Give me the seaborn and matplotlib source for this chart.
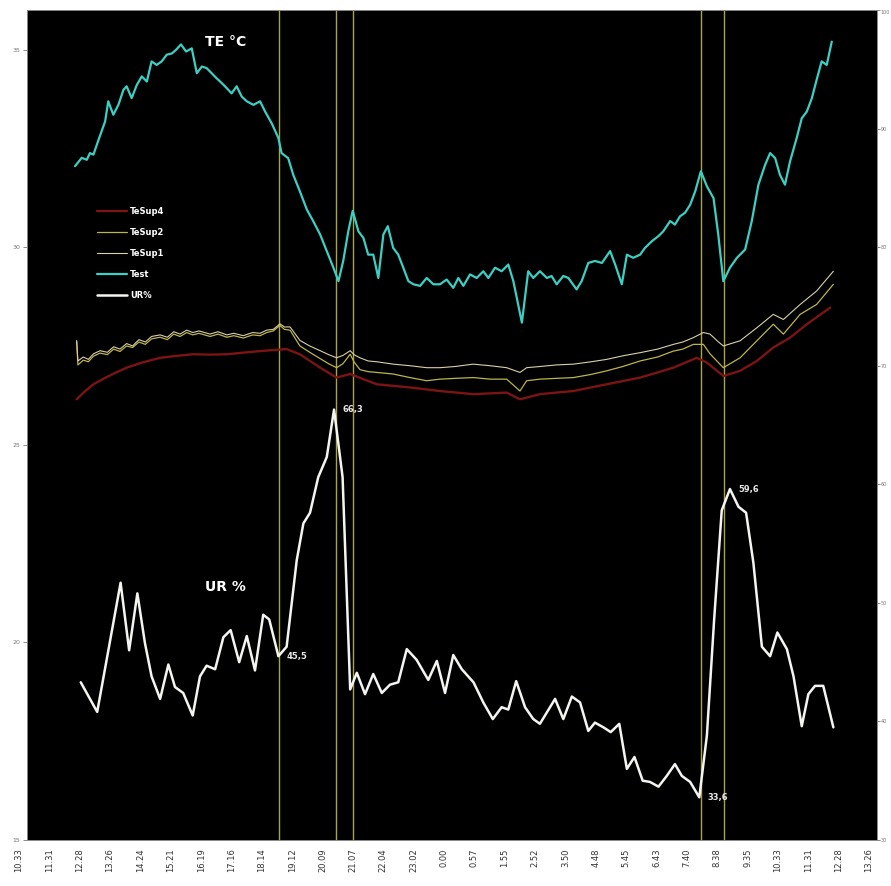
import numpy as np
import matplotlib
matplotlib.use("Agg")
import matplotlib.pyplot as plt
import matplotlib.transforms as mtransforms
import seaborn as sns

# ── data (time in hours since midnight of day 1) ─────────────────────────────
test_hours = [12.08, 12.29, 12.45, 12.55, 12.66, 12.82, 12.92, 13.03, 13.13, 13.29,
              13.45, 13.61, 13.71, 13.87, 14.03, 14.19, 14.35, 14.50, 14.66, 14.82,
              14.98, 15.14, 15.27, 15.43, 15.59, 15.77, 15.93, 16.09, 16.24, 16.40,
              16.56, 16.72, 16.88, 17.03, 17.19, 17.35, 17.51, 17.72, 17.93, 18.09,
              18.30, 18.51, 18.61, 18.82, 18.98, 19.19, 19.41, 19.61, 19.83, 20.04,
              20.25, 20.41, 20.56, 20.72, 20.86, 21.04, 21.20, 21.35, 21.51, 21.67,
              21.83, 21.97, 22.14, 22.30, 22.46, 22.62, 22.78, 22.99, 23.20, 23.41,
              23.62, 23.83, 24.04, 24.20, 24.36, 24.57, 24.78, 24.99, 25.15, 25.36,
              25.57, 25.78, 25.94, 26.21, 26.41, 26.57, 26.78, 27.00, 27.15, 27.31,
              27.52, 27.68, 27.94, 28.10, 28.31, 28.52, 28.74, 29.00, 29.16, 29.37,
              29.53, 29.73, 29.95, 30.10, 30.32, 30.53, 30.68, 30.90, 31.05, 31.21,
              31.37, 31.53, 31.69, 31.87, 32.06, 32.27, 32.42, 32.58, 32.79, 33.01,
              33.27, 33.48, 33.69, 33.90, 34.06, 34.22, 34.37, 34.53, 34.69, 34.90,
              35.06, 35.22, 35.38, 35.53, 35.69, 35.85, 35.93, 36.01]
test_vals = [32.05, 32.26, 32.21, 32.38, 32.34, 32.71, 32.93, 33.18, 33.69, 33.35,
             33.60, 33.98, 34.07, 33.77, 34.10, 34.32, 34.19, 34.70, 34.61, 34.70,
             34.87, 34.90, 34.99, 35.13, 34.95, 35.03, 34.40, 34.57, 34.53, 34.40,
             34.27, 34.15, 34.02, 33.89, 34.07, 33.81, 33.69, 33.60, 33.69, 33.43,
             33.13, 32.76, 32.38, 32.25, 31.83, 31.41, 30.95, 30.66, 30.32, 29.90,
             29.48, 29.14, 29.65, 30.40, 30.92, 30.40, 30.23, 29.81, 29.81, 29.22,
             30.32, 30.53, 29.98, 29.81, 29.48, 29.14, 29.06, 29.02, 29.22, 29.06,
             29.06, 29.18, 28.97, 29.22, 29.02, 29.31, 29.22, 29.39, 29.22, 29.48,
             29.39, 29.56, 29.14, 28.09, 29.39, 29.22, 29.39, 29.22, 29.27, 29.06,
             29.27, 29.22, 28.93, 29.14, 29.60, 29.65, 29.60, 29.90, 29.56, 29.06,
             29.81, 29.73, 29.81, 29.98, 30.15, 30.28, 30.40, 30.66, 30.57, 30.78,
             30.87, 31.07, 31.41, 31.92, 31.54, 31.24, 30.32, 29.14, 29.48, 29.73,
             29.94, 30.66, 31.58, 32.08, 32.38, 32.25, 31.83, 31.58, 32.17, 32.76,
             33.26, 33.43, 33.77, 34.23, 34.70, 34.61, 34.90, 35.20]

tesup_hours = [12.13, 12.17, 12.34, 12.50, 12.66, 12.87, 13.10, 13.30, 13.50, 13.71,
               13.90, 14.10, 14.30, 14.50, 14.77, 15.00, 15.20, 15.40, 15.61, 15.80,
               16.00, 16.35, 16.60, 16.88, 17.10, 17.40, 17.70, 17.93, 18.14, 18.35,
               18.56, 18.70, 18.88, 19.19, 19.50, 19.83, 20.10, 20.35, 20.55, 20.78,
               20.90, 21.09, 21.35, 21.62, 22.14, 22.67, 23.20, 23.62, 24.10, 24.67,
               25.20, 25.73, 26.15, 26.36, 26.78, 27.30, 27.84, 28.40, 28.89, 29.40,
               29.95, 30.50, 31.00, 31.30, 31.63, 31.95, 32.16, 32.40, 32.58, 33.11,
               33.64, 34.16, 34.48, 35.01, 35.53, 36.06]
tesup1_vals = [27.63, 27.12, 27.22, 27.16, 27.30, 27.38, 27.34, 27.48, 27.42, 27.56,
               27.50, 27.66, 27.60, 27.74, 27.78, 27.72, 27.86, 27.80, 27.90, 27.84,
               27.88, 27.80, 27.86, 27.78, 27.82, 27.76, 27.84, 27.82, 27.90, 27.92,
               28.06, 27.98, 27.98, 27.64, 27.50, 27.38, 27.28, 27.20, 27.26, 27.38,
               27.28, 27.20, 27.12, 27.10, 27.04, 27.00, 26.95, 26.95, 26.98, 27.04,
               27.00, 26.95, 26.83, 26.95, 26.98, 27.02, 27.04, 27.10, 27.16, 27.25,
               27.33, 27.42, 27.54, 27.60, 27.71, 27.84, 27.80, 27.62, 27.50, 27.63,
               27.96, 28.30, 28.17, 28.55, 28.89, 29.39]
tesup2_vals = [27.63, 27.02, 27.14, 27.10, 27.24, 27.32, 27.28, 27.42, 27.36, 27.50,
               27.46, 27.60, 27.54, 27.68, 27.72, 27.66, 27.80, 27.74, 27.84, 27.78,
               27.82, 27.74, 27.80, 27.72, 27.76, 27.70, 27.78, 27.76, 27.84, 27.88,
               28.02, 27.92, 27.90, 27.50, 27.34, 27.18, 27.05, 26.95, 27.05, 27.29,
               27.10, 26.90, 26.85, 26.83, 26.79, 26.70, 26.62, 26.66, 26.68, 26.70,
               26.66, 26.66, 26.36, 26.62, 26.66, 26.68, 26.70, 26.78, 26.87, 26.98,
               27.12, 27.22, 27.37, 27.42, 27.54, 27.54, 27.30, 27.10, 26.95, 27.20,
               27.63, 28.05, 27.80, 28.30, 28.55, 29.06]

tesup4_hours = [12.13, 12.40, 12.66, 13.00, 13.30, 13.71, 14.20, 14.77, 15.30, 15.82,
                16.35, 16.88, 17.40, 17.93, 18.40, 18.77, 19.19, 19.83, 20.35, 20.78,
                21.62, 22.67, 23.62, 24.67, 25.73, 26.15, 26.78, 27.84, 28.89, 29.95,
                31.00, 31.74, 32.06, 32.58, 33.11, 33.64, 34.16, 34.69, 35.22, 35.96]
tesup4_vals = [26.15, 26.36, 26.53, 26.68, 26.80, 26.95, 27.08, 27.20, 27.25, 27.29,
               27.28, 27.29, 27.33, 27.37, 27.40, 27.42, 27.29, 26.95, 26.70, 26.79,
               26.53, 26.45, 26.36, 26.28, 26.32, 26.15, 26.28, 26.36, 26.53, 26.70,
               26.95, 27.20, 27.08, 26.74, 26.87, 27.12, 27.46, 27.71, 28.05, 28.47]

ur_hours = [12.26, 12.78, 13.52, 13.79, 14.05, 14.29, 14.50, 14.77, 15.03, 15.24,
            15.50, 15.80, 16.03, 16.24, 16.51, 16.77, 17.00, 17.27, 17.51, 17.77,
            18.03, 18.22, 18.51, 18.77, 19.09, 19.30, 19.51, 19.77, 20.04, 20.27,
            20.54, 20.78, 20.99, 21.25, 21.51, 21.78, 22.04, 22.30, 22.57, 22.88,
            23.25, 23.52, 23.78, 24.04, 24.31, 24.68, 24.99, 25.29, 25.57, 25.78,
            26.03, 26.31, 26.57, 26.78, 27.26, 27.52, 27.79, 28.05, 28.31, 28.52,
            28.79, 29.02, 29.29, 29.53, 29.77, 30.03, 30.26, 30.53, 30.79, 31.05,
            31.27, 31.53, 31.82, 32.06, 32.29, 32.53, 32.79, 33.06, 33.30, 33.53,
            33.80, 34.06, 34.29, 34.59, 34.80, 35.06, 35.27, 35.48, 35.74, 36.06]
ur_vals = [43.3, 40.8, 51.7, 46.0, 50.8, 46.6, 43.8, 41.9, 44.8, 42.9,
           42.4, 40.5, 43.8, 44.7, 44.4, 47.1, 47.7, 45.0, 47.2, 44.3,
           49.0, 48.6, 45.5, 46.3, 53.6, 56.7, 57.6, 60.6, 62.3, 66.3,
           60.6, 42.7, 44.1, 42.3, 44.0, 42.4, 43.1, 43.3, 46.1, 45.2,
           43.5, 45.1, 42.4, 45.6, 44.4, 43.3, 41.6, 40.2, 41.2, 41.0,
           43.4, 41.2, 40.2, 39.8, 41.9, 40.2, 42.1, 41.6, 39.2, 39.9,
           39.5, 39.1, 39.8, 36.0, 37.0, 35.0, 34.9, 34.5, 35.4, 36.4,
           35.4, 34.9, 33.6, 38.8, 48.6, 57.8, 59.6, 58.1, 57.6, 53.4,
           46.3, 45.5, 47.5, 46.1, 43.8, 39.6, 42.3, 43.0, 43.0, 39.5]

# moments marked with vertical lines, and UR points that carry a value label
event_hours = [18.53, 20.33, 20.86, 31.88, 32.61]
labelled_hours = [18.51, 20.27, 31.82, 32.79]

x_ticklabels = ["10.33", "11.31", "12.28", "13.26", "14.24", "15.21", "16.19", "17.16",
                "18.14", "19.12", "20.09", "21.07", "22.04", "23.02", "0.00", "0.57",
                "1.55", "2.52", "3.50", "4.48", "5.45", "6.43", "7.40", "8.38",
                "9.35", "10.33", "11.31", "12.28", "13.26"]
temp_ticks = [15, 20, 25, 30, 35]
ur_ticks = [30, 40, 50, 60, 70, 80, 90, 100]

# ── colours ──────────────────────────────────────────────────────────────────
C_TEST = "#3ccfc4"
C_SUP1 = "#d8d0a8"
C_SUP2 = "#bdb44a"
C_SUP4 = "#7c1414"
C_UR = "#f4f4f0"
C_EVENT = "#aaa448"

# ── figure ───────────────────────────────────────────────────────────────────
sns.set_style("white")
plt.rcParams["font.family"] = ["DejaVu Sans"]

fig = plt.figure(figsize=(8.91, 8.86), dpi=100)
ax = fig.add_axes([27 / 891, 1 - 840 / 886, 850 / 891, 830 / 886])
ax.set_facecolor("black")
ax2 = ax.twinx()

for h in event_hours:
    ax.axvline(h, color=C_EVENT, lw=1.0, zorder=1)

sns.lineplot(x=tesup4_hours, y=tesup4_vals, ax=ax, color=C_SUP4, lw=1.7, label="TeSup4")
sns.lineplot(x=tesup_hours, y=tesup2_vals, ax=ax, color=C_SUP2, lw=0.9, label="TeSup2")
sns.lineplot(x=tesup_hours, y=tesup1_vals, ax=ax, color=C_SUP1, lw=0.8, label="TeSup1")
sns.lineplot(x=test_hours, y=test_vals, ax=ax, color=C_TEST, lw=1.6, label="Test")
sns.lineplot(x=ur_hours, y=ur_vals, ax=ax2, color=C_UR, lw=1.8, label="UR%")

# value labels next to the marked UR points
for h in labelled_hours:
    v = ur_vals[ur_hours.index(h)]
    ax2.annotate(f"{v:.1f}".replace(".", ","), xy=(h, v), xytext=(6, 0),
                 textcoords="offset points", va="center", ha="left",
                 color="#e8e8e8", fontsize=6, fontweight="bold")

ax.text(16.85, 35.2, "TE °C", color="white", fontsize=10, fontweight="bold",
        ha="center", va="center")
ax2.text(16.85, 51.3, "UR %", color="white", fontsize=10, fontweight="bold",
         ha="center", va="center")

# axes ranges and ticks
x_start, x_step = 10.56, 0.96
x_ticks = [x_start + i * x_step for i in range(len(x_ticklabels))]
ax.set_xlim(x_ticks[0], x_ticks[-1])
ax.set_ylim(15, 36)
ax2.set_ylim(30, 100)

ax.set_xticks(x_ticks)
ax.set_xticklabels(x_ticklabels, rotation=90, fontsize=6, color="#333333")
ax.set_yticks(temp_ticks)
ax.set_yticklabels([str(t) for t in temp_ticks], fontsize=4.5, color="#555555")
ax2.set_yticks(ur_ticks)
ax2.set_yticklabels([str(t) for t in ur_ticks], fontsize=3.5, color="#555555")
ax.tick_params(axis="x", direction="out", length=3, width=0.6, colors="#555555",
               labelcolor="#333333", pad=3)
ax.tick_params(axis="y", direction="out", length=3, width=0.6, colors="#777777", pad=2)
ax2.tick_params(axis="y", direction="out", length=2, width=0.6, colors="#777777", pad=0.5)
ax.set_xlabel("")
ax.set_ylabel("")
ax2.set_ylabel("")
for a in (ax, ax2):
    for s in a.spines.values():
        s.set_color("#888888")
        s.set_linewidth(0.6)

# the original's rotated time labels sit a little left of their ticks
shift = mtransforms.ScaledTranslation(-8 / 100, 0, fig.dpi_scale_trans)
for lbl in ax.get_xticklabels():
    lbl.set_transform(lbl.get_transform() + shift)
# keep the top UR label inside the picture
ax2.get_yticklabels()[-1].set_va("top")

# legend
h1, l1 = ax.get_legend_handles_labels()
h2, l2 = ax2.get_legend_handles_labels()
if ax2.get_legend() is not None:
    ax2.get_legend().remove()
leg = ax.legend(h1 + h2, l1 + l2, loc="upper left", bbox_to_anchor=(0.074, 0.772),
                frameon=False, fontsize=6, handlelength=3.5, handletextpad=0.4,
                labelspacing=1.45)
for t in leg.get_texts():
    t.set_color("white")
    t.set_fontweight("bold")

fig.savefig("out.png", dpi=100, facecolor="white")
